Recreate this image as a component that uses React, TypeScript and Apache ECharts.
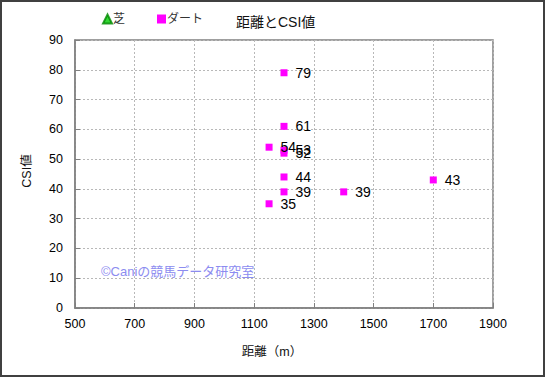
import React, { useEffect, useRef } from "react";
import * as echarts from "echarts";

const titleText = "距離とCSI値";
const seriesNames = ["芝", "ダート"];
const turfData: number[][] = [];
const dirtData: number[][] = [
  [1200, 79],
  [1200, 61],
  [1150, 54],
  [1200, 53],
  [1200, 52],
  [1200, 44],
  [1200, 39],
  [1400, 39],
  [1700, 43],
  [1150, 35],
];
const xAxisName = "距離（m）";
const yAxisName = "CSI値";
const watermark = "©Caniの競馬データ研究室";

const FONT = "'Liberation Sans', 'Noto Sans CJK JP', sans-serif";

export default function App() {
  const ref = useRef<HTMLDivElement>(null);
  useEffect(() => {
    document.body.style.margin = "0";
    if (!ref.current) return;
    const chart = echarts.init(ref.current, null, { renderer: "svg" });
    chart.setOption({
      animation: false,
      backgroundColor: "#ffffff",
      textStyle: { fontFamily: FONT },
      title: {
        text: titleText,
        left: 236,
        top: 15,
        padding: 0,
        textStyle: { fontSize: 14, fontWeight: "normal", color: "#111", fontFamily: FONT },
      },
      legend: {
        left: 102,
        top: 13,
        padding: 0,
        itemWidth: 9,
        itemHeight: 9,
        itemGap: 32,
        textStyle: { fontSize: 12, color: "#333", padding: [0, 0, 0, -4], fontFamily: FONT },
        data: [
          { name: seriesNames[0], icon: "triangle" },
          { name: seriesNames[1], icon: "rect" },
        ],
      },
      grid: {
        left: 75,
        top: 40,
        right: 52,
        bottom: 69,
        show: true,
        borderColor: "#808080",
        borderWidth: 1.5,
      },
      xAxis: {
        type: "value",
        min: 500,
        max: 1900,
        interval: 200,
        axisLine: { show: true, lineStyle: { color: "#808080", width: 1.5 } },
        axisTick: { show: true, inside: true, length: 5, lineStyle: { color: "#808080" } },
        axisLabel: {
          fontSize: 12.5,
          color: "#000",
          margin: 10,
          fontFamily: FONT,
          formatter: (v: number) => String(v),
        },
        splitLine: { show: true, lineStyle: { color: "#b8b8b8", type: [2, 2], width: 1 } },
      },
      yAxis: {
        type: "value",
        min: 0,
        max: 90,
        interval: 10,
        axisLine: { show: true, lineStyle: { color: "#808080", width: 1.5 } },
        axisTick: { show: true, inside: true, length: 5, lineStyle: { color: "#808080" } },
        axisLabel: {
          fontSize: 12.5,
          color: "#000",
          margin: 12,
          fontFamily: FONT,
          formatter: (v: number) => String(v),
        },
        splitLine: { show: true, lineStyle: { color: "#b8b8b8", type: [2, 2], width: 1 } },
      },
      series: [
        {
          name: seriesNames[0],
          type: "scatter",
          symbol: "triangle",
          symbolSize: 8,
          itemStyle: { color: "#00cc00", borderColor: "#008800", borderWidth: 0.5 },
          data: turfData,
        },
        {
          name: seriesNames[1],
          type: "scatter",
          symbol: "rect",
          symbolSize: 7,
          itemStyle: { color: "#ff00ff", opacity: 1 },
          label: {
            show: true,
            position: "right",
            distance: 8,
            formatter: (p: any) => String(p.value[1]),
            fontSize: 14,
            color: "#000",
            opacity: 1,
            fontFamily: FONT,
          },
          labelLayout: { hideOverlap: false },
          data: dirtData,
        },
      ],
      graphic: [
        {
          type: "rect",
          shape: { x: 1, y: 1, width: 543, height: 375 },
          style: { fill: "none", stroke: "#404040", lineWidth: 2 },
          silent: true,
        },
        {
          type: "text",
          x: 272,
          y: 352,
          style: {
            text: xAxisName,
            fontSize: 12.5,
            fill: "#111",
            align: "center",
            verticalAlign: "middle",
            fontFamily: FONT,
          },
        },
        {
          type: "text",
          x: 27,
          y: 171,
          rotation: Math.PI / 2,
          style: {
            text: yAxisName,
            fontSize: 12.5,
            fill: "#111",
            align: "center",
            verticalAlign: "middle",
            fontFamily: FONT,
          },
        },
        {
          type: "text",
          x: 101,
          y: 271,
          style: {
            text: watermark,
            fontSize: 13,
            fill: "#8c8cf0",
            align: "left",
            verticalAlign: "middle",
            fontFamily: FONT,
          },
        },
      ],
    });
    return () => chart.dispose();
  }, []);
  return (
    <div
      ref={ref}
      style={{ position: "absolute", left: 0, top: 0, width: 545, height: 377 }}
    />
  );
}
